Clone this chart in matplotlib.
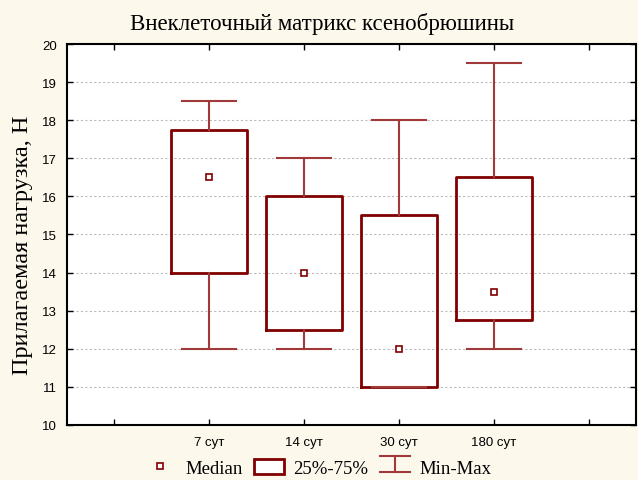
import numpy as np
import matplotlib.pyplot as plt
from matplotlib.lines import Line2D
from matplotlib.patches import Rectangle
from matplotlib.legend_handler import HandlerBase

#------------------data------------------
groups = ["7 сут", "14 сут", "30 сут", "180 сут"]
medians = [16.5, 14.0, 12.0, 13.5]
q1 = [14.0, 12.5, 11.0, 12.75]
q3 = [17.75, 16.0, 15.5, 16.5]
mins = [12.0, 12.0, 11.0, 12.0]
maxs = [18.5, 17.0, 18.0, 19.5]

box_col = "#800000"
wh_col = "#A03A3A"
bg = "#FDF8EC"
serif = "Liberation Serif"
sans = "Liberation Sans"

#------------------legend handler for min-max------------------
class WhiskerHandler(HandlerBase):
    def create_artists(self, legend, orig, x0, y0, w, h, fontsize, trans):
        cx = x0 + w / 2
        top = y0 + h
        bot = y0
        a = Line2D([x0, x0 + w], [top, top], color=wh_col, lw=1.5, transform=trans)
        b = Line2D([x0, x0 + w], [bot, bot], color=wh_col, lw=1.5, transform=trans)
        c = Line2D([cx, cx], [bot, top], color=wh_col, lw=1.5, transform=trans)
        return [a, b, c]

fig = plt.figure(figsize=(6.38, 4.81), dpi=100, facecolor=bg)
ax = fig.add_axes([0.105, 0.1144, 0.892, 0.792])
ax.set_facecolor("white")

pos = np.arange(1, len(groups) + 1)
stats = []
for i in range(len(groups)):
    stats.append(dict(med=medians[i], q1=q1[i], q3=q3[i],
                      whislo=mins[i], whishi=maxs[i], mean=medians[i], fliers=[]))

ax.bxp(stats, positions=pos, widths=0.8, capwidths=0.57,
       showmeans=True, showfliers=False,
       boxprops=dict(color=box_col, lw=2),
       whiskerprops=dict(color=wh_col, lw=1.5),
       capprops=dict(color=wh_col, lw=1.5),
       medianprops=dict(lw=0),
       meanprops=dict(marker="s", markersize=4.5, markerfacecolor="white",
                      markeredgecolor=box_col, markeredgewidth=1.2),
       zorder=3)

ax.set_xlim(-0.5, 5.5)
ax.set_ylim(10, 20)
ax.set_xticks(range(6))
ax.set_xticklabels([""] + groups + [""], fontfamily=sans, fontsize=9.5)
ax.set_yticks(range(10, 21))
ax.set_yticklabels([str(v) for v in range(10, 21)], fontfamily=sans, fontsize=9.5)
ax.tick_params(direction="in", length=4, width=1, top=True, right=True, pad=7)
ax.tick_params(axis="x", pad=8)
ax.yaxis.grid(True, linestyle=(0, (2, 2)), color="#BBBBBB", lw=0.8)
ax.set_axisbelow(True)
for s in ax.spines.values():
    s.set_linewidth(1.5)

fig.text(0.505, 0.95, "Внеклеточный матрикс ксенобрюшины", fontfamily=serif,
         fontsize=16.5, ha="center", va="center")
ax.set_ylabel("Прилагаемая нагрузка, Н", fontfamily=serif, fontsize=17.5)
ax.yaxis.set_label_coords(-0.06, 0.475)

h_med = Line2D([], [], ls="none", marker="s", markersize=4.5, markerfacecolor="white",
               markeredgecolor=box_col, markeredgewidth=1.2)
h_box = Rectangle((0, 0), 1, 1, facecolor="white", edgecolor=box_col, lw=2)
h_wh = Line2D([], [])
fig.legend([h_med, h_box, h_wh], ["Median", "25%-75%", "Min-Max"],
           handler_map={h_wh: WhiskerHandler()},
           loc="center", bbox_to_anchor=(0.499, 0.025), ncol=3, frameon=False,
           prop=dict(family=serif, size=13.5), handlelength=1.6, handleheight=0.9,
           handletextpad=0.53, columnspacing=0.6)

fig.savefig("out.png", dpi=100, facecolor=bg)
